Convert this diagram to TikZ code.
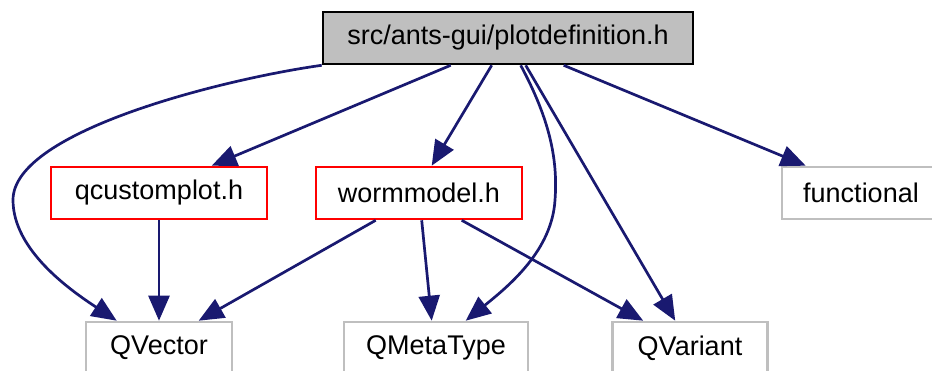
\documentclass[tikz,border=0pt]{standalone}
\usepackage{fontspec}
\setmainfont{Liberation Sans}
\usetikzlibrary{arrows.meta}
\definecolor{edgeblue}{HTML}{191970}
\definecolor{boxgray}{HTML}{BFBFBF}
\begin{document}
\begin{tikzpicture}[x=1pt,y=-1pt,
  box/.style={draw, line width=2.6pt, minimum height=52pt, inner sep=0pt,
    font=\fontsize{27}{32}\selectfont, text=black},
  mainbox/.style={box, draw=black, fill=boxgray},
  localbox/.style={box, draw=red, fill=white},
  sysbox/.style={box, draw=boxgray, fill=white},
  dep/.style={draw=edgeblue, line width=2.7pt,
    -{Triangle[length=25pt,width=21pt]}}]
\useasboundingbox (0,0) rectangle (932,371);
\clip (0,0) rectangle (932,371);

% include graph nodes
\node[mainbox,  minimum width=370pt] (top)  at (508,38)  {src/ants-gui/plotdefinition.h};
\node[localbox, minimum width=216pt] (qcp)  at (159,193) {qcustomplot.h};
\node[localbox, minimum width=206pt] (worm) at (419,193) {wormmodel.h};
\node[sysbox,   minimum width=158pt] (func) at (861,193) {functional};
\node[sysbox,   minimum width=146pt] (qvec) at (159,348) {QVector};
\node[sysbox,   minimum width=184pt] (qmt)  at (436,348) {QMetaType};
\node[sysbox,   minimum width=155pt] (qvar) at (690,348) {QVariant};

% dependencies of the main header
\draw[dep] (top.south west)
  .. controls (230,78) and (13,130) .. (13,200)
  .. controls (13,250) and (70,290) .. ([xshift=32pt]qvec.north west);
\draw[dep] ([xshift=129pt]top.south west) -- ([xshift=162pt]qcp.north west);
\draw[dep] ([xshift=170pt]top.south west) -- ([xshift=117pt]worm.north west);
\draw[dep] ([xshift=199pt]top.south west)
  .. controls (550,120) and (558,160) .. (555,200)
  .. controls (552,250) and (510,285) .. ([xshift=123pt]qmt.north west);
\draw[dep] ([xshift=204pt]top.south west) -- ([xshift=64pt]qvar.north west);
\draw[dep] ([xshift=242pt]top.south west) -- ([xshift=25pt]func.north west);

% second level
\draw[dep] (qcp.south) -- (qvec.north);
\draw[dep] ([xshift=61pt]worm.south west)  -- ([xshift=114pt]qvec.north west);
\draw[dep] ([xshift=107pt]worm.south west) -- ([xshift=89pt]qmt.north west);
\draw[dep] ([xshift=147pt]worm.south west) -- ([xshift=32pt]qvar.north west);
\end{tikzpicture}
\end{document}
